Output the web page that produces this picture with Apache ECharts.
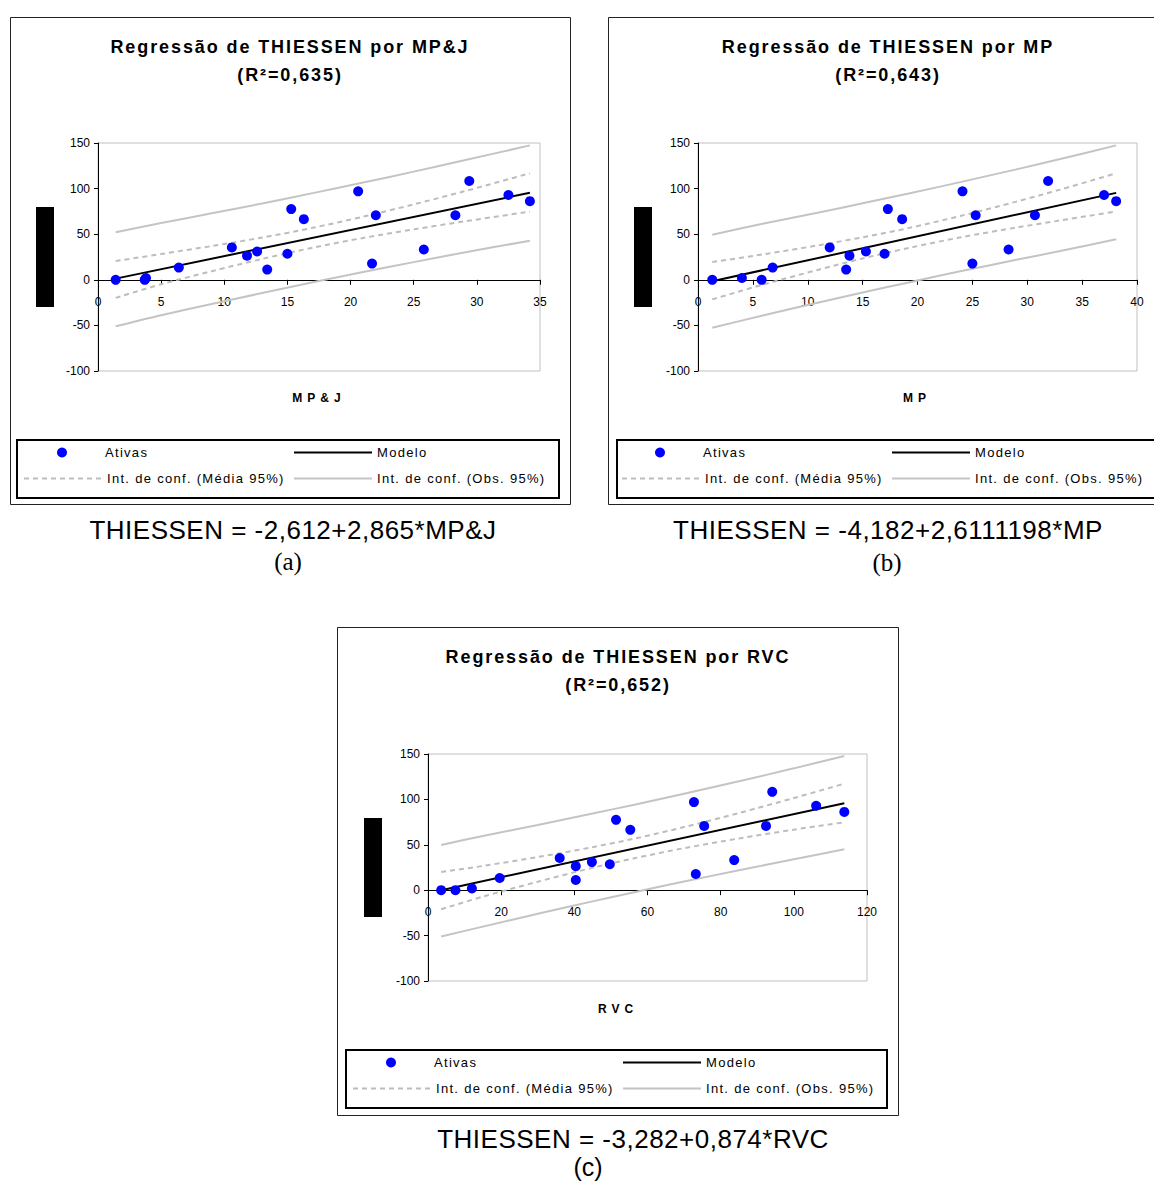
<!DOCTYPE html>
<html><head><meta charset="utf-8">
<script src="https://cdn.jsdelivr.net/npm/echarts@6/dist/echarts.min.js"></script>
<style>html,body{margin:0;padding:0;background:#fff}#c{width:1154px;height:1183px}</style>
</head><body><div id="c"></div>
<script>
// ---- data ----
const thiessen = [0, 0, 2, 13.4, 35.5, 26.5, 31, 11.2, 28.6, 77.5, 66.5, 97, 17.8, 70.8, 33.2, 70.8, 108.3, 93, 86.2];
const mpj = [1.4, 3.7, 3.8, 6.4, 10.6, 11.8, 12.6, 13.4, 15.0, 15.3, 16.3, 20.6, 21.7, 22.0, 25.8, 28.3, 29.4, 32.5, 34.2];
const mp  = [1.3, 5.8, 4.0, 6.8, 12.0, 13.8, 15.3, 13.5, 17.0, 17.3, 18.6, 24.1, 25.0, 25.3, 28.3, 30.7, 31.9, 37.0, 38.1];
const rvc = [3.6, 7.5, 12.0, 19.6, 36.0, 40.4, 44.8, 40.4, 49.7, 51.4, 55.3, 72.7, 73.2, 75.5, 83.7, 92.4, 94.1, 106.1, 113.8];

const fitMpjX = [1.4, 34.2], fitMpjY = [1.3, 95.4];
const fitMpX  = [1.3, 38.1], fitMpY  = [-1.5, 95.3];
const fitRvcX = [3.6, 113.8], fitRvcY = [0.0, 95.8];

const bandMpjX  = [1.4, 5, 9, 13, 17.1, 21, 25, 29, 34.2];
const meanUpMpj = [20.5, 28.3, 37.0, 46.3, 57.3, 69.2, 82.7, 97.0, 116.8];
const meanLoMpj = [-19.8, -4.9, 9.4, 22.9, 35.5, 45.9, 55.3, 64.0, 74.8];
const obsUpMpj  = [52.2, 62.2, 72.9, 83.7, 95.3, 106.6, 118.6, 131.0, 147.4];
const obsLoMpj  = [-51.0, -38.8, -26.5, -14.5, -2.5, 8.5, 19.4, 30.0, 42.8];

const bandMpX  = [1.3, 6, 11, 15, 19.3, 24, 29, 33, 38.1];
const meanUpMp = [19.5, 28.0, 37.9, 46.6, 57.0, 70.3, 85.7, 98.9, 116.8];
const meanLoMp = [-21.5, -5.0, 11.1, 23.4, 35.2, 46.7, 57.3, 65.1, 75.0];
const obsUpMp  = [49.5, 61.8, 73.8, 83.9, 94.8, 107.4, 121.1, 132.4, 147.4];
const obsLoMp  = [-52.6, -38.8, -24.8, -13.9, -2.6, 9.6, 21.9, 31.6, 44.5];

const bandRvcX  = [3.6, 15, 30, 45, 56.4, 70, 85, 100, 113.8];
const meanUpRvc = [20.0, 26.7, 36.5, 47.4, 56.8, 69.5, 85.0, 101.5, 117.3];
const meanLoRvc = [-21.0, -7.1, 9.3, 24.7, 35.2, 46.3, 57.0, 66.7, 74.8];
const obsUpRvc  = [49.8, 59.7, 71.8, 84.4, 94.2, 106.3, 120.0, 134.2, 147.9];
const obsLoRvc  = [-51.0, -40.1, -26.0, -12.3, -2.2, 9.5, 22.0, 34.0, 45.0];

const xMax = [35, 40, 120];
const xStep = [5, 5, 20];
const yTicks = [-100, 150, 50];
const titles = ['Regressão de THIESSEN por MP&J', 'Regressão de THIESSEN por MP', 'Regressão de THIESSEN por RVC'];
const r2Labels = ['(R²=0,635)', '(R²=0,643)', '(R²=0,652)'];
const axisNames = ['MP&J', 'MP', 'RVC'];
const equations = ['THIESSEN = -2,612+2,865*MP&J', 'THIESSEN = -4,182+2,6111198*MP', 'THIESSEN = -3,282+0,874*RVC'];
const panelTags = ['(a)', '(b)', '(c)'];
const legendNames = ['Ativas', 'Modelo', 'Int. de conf. (Média 95%)', 'Int. de conf. (Obs. 95%)'];

// ---- build ----
const pairs = (xs, ys) => xs.map((v, i) => [v, ys[i]]);
const panels = [
  {x: mpj, fx: fitMpjX, fy: fitMpjY, bx: bandMpjX, mu: meanUpMpj, ml: meanLoMpj, ou: obsUpMpj, ol: obsLoMpj},
  {x: mp,  fx: fitMpX,  fy: fitMpY,  bx: bandMpX,  mu: meanUpMp,  ml: meanLoMp,  ou: obsUpMp,  ol: obsLoMp},
  {x: rvc, fx: fitRvcX, fy: fitRvcY, bx: bandRvcX, mu: meanUpRvc, ml: meanLoRvc, ou: obsUpRvc, ol: obsLoRvc}
];
const FONT = '"Liberation Sans", Arial, sans-serif';
const grids = [
  {left: 98, top: 143, width: 442, height: 228},
  {left: 698, top: 143, width: 439, height: 228},
  {left: 428, top: 754, width: 439, height: 227}
];
const box = [
  {x: 10, y: 17, w: 560, h: 487, cx: 290, lx: 16, lw: 542, ly: 439, lh: 58},
  {x: 608, y: 17, w: 600, h: 487, cx: 888, lx: 616, lw: 600, ly: 439, lh: 58},
  {x: 337, y: 627, w: 561, h: 488, cx: 618, lx: 345, lw: 541, ly: 1049, lh: 58}
];
const legOff = [[0, 0], [598, 0], [329, 610]];
const axisNamePos = [[319, 398], [917, 398], [618, 1009]];
const eqPos = [[293, 530], [888, 530], [633, 1139]];
const tagPos = [[288, 561], [887, 562], [588, 1167]];
const blackRects = [[36, 207, 18, 100], [634, 207, 18, 100], [364, 818, 18, 99]];

// x axis sits on the y = 0 line: shift it up from the grid bottom by the share of the range below zero
const zeroShift = g => -g.height * (0 - yTicks[0]) / (yTicks[1] - yTicks[0]);

const option = {
  animation: false,
  backgroundColor: '#fff',
  grid: grids.map(g => Object.assign({show: true, borderColor: '#c0c0c0', borderWidth: 1, backgroundColor: 'transparent'}, g)),
  xAxis: panels.map((p, i) => ({
    gridIndex: i, type: 'value', min: 0, max: xMax[i], interval: xStep[i], position: 'bottom',
    offset: zeroShift(grids[i]),
    axisLine: {show: true, onZero: false, lineStyle: {color: '#000', width: 1}},
    axisTick: {show: true, length: 5, lineStyle: {color: '#000'}},
    axisLabel: {color: '#000', fontSize: 12, fontFamily: FONT, margin: 16},
    splitLine: {show: false}
  })),
  yAxis: panels.map((p, i) => ({
    gridIndex: i, type: 'value', min: yTicks[0], max: yTicks[1], interval: yTicks[2],
    axisLine: {show: true, onZero: false, lineStyle: {color: '#000', width: 1}},
    axisTick: {show: true, length: 4, lineStyle: {color: '#000'}},
    axisLabel: {color: '#000', fontSize: 12, fontFamily: FONT, margin: 8},
    splitLine: {show: false}
  })),
  series: [],
  legend: [],
  graphic: {elements: []}
};

panels.forEach((p, i) => {
  const base = {xAxisIndex: i, yAxisIndex: i, symbol: 'none', silent: true};
  const obsStyle = {color: '#c4c4c4', width: 2, type: 'solid'};
  const meanStyle = {color: '#bdbdbd', width: 2, type: [5, 4]};
  option.series.push(
    Object.assign({type: 'line', name: legendNames[3], data: pairs(p.bx, p.ou), smooth: 0.3, lineStyle: obsStyle, itemStyle: {color: '#c4c4c4'}}, base),
    Object.assign({type: 'line', name: legendNames[3], data: pairs(p.bx, p.ol), smooth: 0.3, lineStyle: obsStyle, itemStyle: {color: '#c4c4c4'}}, base),
    Object.assign({type: 'line', name: legendNames[2], data: pairs(p.bx, p.mu), smooth: 0.3, lineStyle: meanStyle, itemStyle: {color: '#bdbdbd'}}, base),
    Object.assign({type: 'line', name: legendNames[2], data: pairs(p.bx, p.ml), smooth: 0.3, lineStyle: meanStyle, itemStyle: {color: '#bdbdbd'}}, base),
    Object.assign({type: 'line', name: legendNames[1], data: pairs(p.fx, p.fy), lineStyle: {color: '#000', width: 2}, itemStyle: {color: '#000'}}, base),
    {type: 'scatter', name: legendNames[0], xAxisIndex: i, yAxisIndex: i, z: 5, symbol: 'circle', symbolSize: 10,
     itemStyle: {color: '#0000ff', opacity: 1}, data: pairs(p.x, thiessen), silent: true}
  );

  const [dx, dy] = legOff[i];
  const legText = {fontSize: 13, fontFamily: FONT, color: '#000'};
  const legBase = {selectedMode: false, padding: 0, itemGap: 0, orient: 'horizontal', itemHeight: 10, itemWidth: 78, textStyle: legText};
  const hideSym = {opacity: 0, color: 'rgba(0,0,0,0)', borderWidth: 0};
  option.legend.push(
    Object.assign({}, legBase, {data: [legendNames[0]], left: 57 + dx, top: 446 + dy, itemWidth: 10,
      textStyle: Object.assign({}, legText, {padding: [0, 0, 0, 33]})}),
    Object.assign({}, legBase, {data: [legendNames[1]], left: 293 + dx, top: 446 + dy, itemStyle: hideSym}),
    Object.assign({}, legBase, {data: [legendNames[2]], left: 23 + dx, top: 472 + dy, itemStyle: hideSym}),
    Object.assign({}, legBase, {data: [legendNames[3]], left: 293 + dx, top: 472 + dy, itemStyle: hideSym})
  );

  const b = box[i];
  const els = option.graphic.elements;
  els.push({type: 'rect', z: 0, shape: {x: b.x + 0.5, y: b.y + 0.5, width: b.w, height: b.h}, style: {fill: 'none', stroke: '#222', lineWidth: 1}});
  els.push({type: 'rect', z: 0, shape: {x: b.lx + 1, y: b.ly + 1, width: b.lw, height: b.lh}, style: {fill: 'none', stroke: '#000', lineWidth: 2}});
  const br = blackRects[i];
  els.push({type: 'rect', z: 0, shape: {x: br[0], y: br[1], width: br[2], height: br[3]}, style: {fill: '#000'}});
  const txt = (x, y, text, font) => ({type: 'text', z: 10, x: x, y: y,
    style: {text: text, font: font, fill: '#000', textAlign: 'center', align: 'center', textVerticalAlign: 'middle', verticalAlign: 'middle'}});
  els.push(txt(b.cx, 47 + dy, titles[i], 'bold 18px ' + FONT));
  els.push(txt(b.cx, 75 + dy, r2Labels[i], 'bold 18px ' + FONT));
  els.push(txt(axisNamePos[i][0], axisNamePos[i][1], axisNames[i], 'bold 12px ' + FONT));
  els.push(txt(eqPos[i][0], eqPos[i][1], equations[i], '26px ' + FONT));
  els.push(txt(tagPos[i][0], tagPos[i][1], panelTags[i], (i === 2 ? '25px ' + FONT : '25px "Liberation Serif", "Times New Roman", serif')));
});

const chart = echarts.init(document.getElementById('c'), null, {renderer: 'svg', width: 1154, height: 1183});
chart.setOption(option);

function spacing() {
  const spec = {};
  titles.concat(r2Labels).forEach(t => spec[t] = '1.9px');
  axisNames.forEach(t => spec[t] = '5px');
  legendNames.forEach(t => spec[t] = '1.3px');
  equations.forEach(t => spec[t] = '0.5px');
  document.querySelectorAll('#c svg text').forEach(el => {
    const t = el.textContent;
    if (spec[t]) el.style.letterSpacing = spec[t];
  });
}
spacing();
chart.on('finished', spacing);
setTimeout(spacing, 0);
setTimeout(spacing, 100);
</script>
</body></html>
